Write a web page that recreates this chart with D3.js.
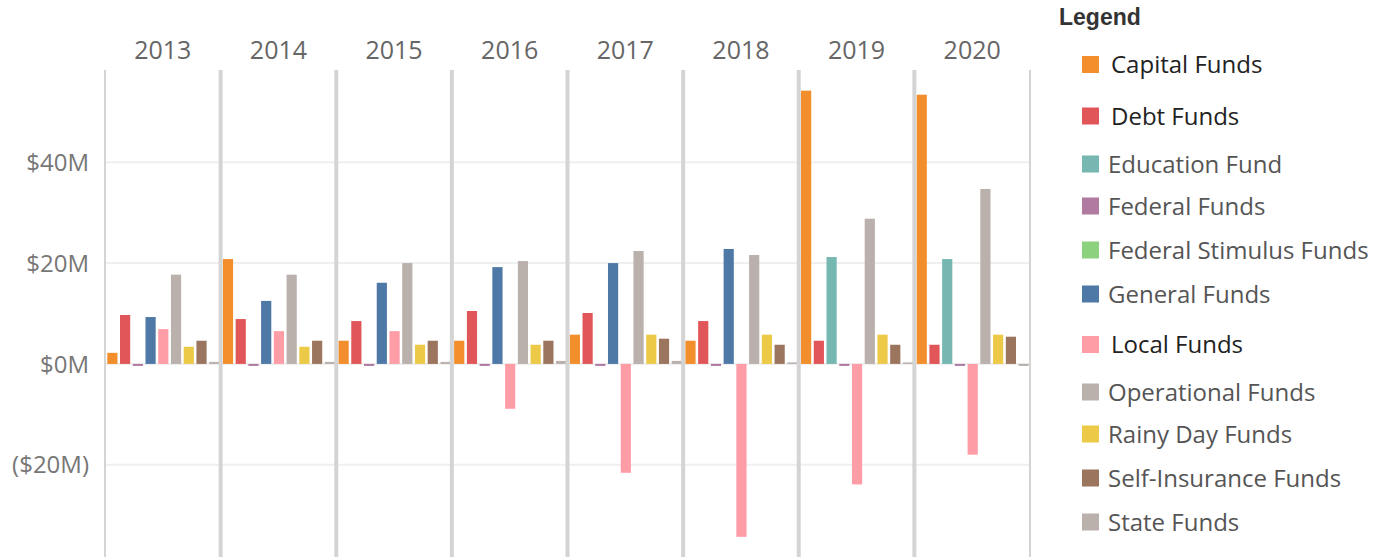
<!DOCTYPE html>
<html>
<head>
<meta charset="utf-8">
<style>
  body { margin: 0; background: #fff; }
  svg { display: block; font-family: "Open Sans", sans-serif; }
</style>
</head>
<body>
<script src="https://cdn.jsdelivr.net/npm/d3@7"></script>
<script>
var width = 1389, height = 557;

// data (values in $M, null = no bar for that year)
var years = ['2013', '2014', '2015', '2016', '2017', '2018', '2019', '2020'];
var funds = ['Capital Funds', 'Debt Funds', 'Education Fund', 'Federal Funds',
             'Federal Stimulus Funds', 'General Funds', 'Local Funds',
             'Operational Funds', 'Rainy Day Funds', 'Self-Insurance Funds', 'State Funds'];
var capital     = [2.2, 20.8, 4.6, 4.6, 5.8, 4.6, 54.2, 53.4];
var debt        = [9.7, 8.9, 8.5, 10.5, 10.1, 8.5, 4.6, 3.8];
var education   = [null, null, null, null, null, null, 21.2, 20.8];
var federal     = [-0.4, -0.4, -0.4, -0.4, -0.4, -0.4, -0.4, -0.4];
var stimulus    = [null, null, null, null, null, null, null, null];
var general     = [9.3, 12.5, 16.1, 19.2, 20.0, 22.8, null, null];
var local       = [6.9, 6.5, 6.5, -8.9, -21.6, -34.3, -23.9, -18.0];
var operational = [17.7, 17.7, 20.0, 20.4, 22.4, 21.6, 28.8, 34.7];
var rainyDay    = [3.4, 3.4, 3.8, 3.8, 5.8, 5.8, 5.8, 5.8];
var selfIns     = [4.6, 4.6, 4.6, 4.6, 5.0, 3.8, 3.8, 5.4];
var state       = [0.4, 0.4, 0.4, 0.6, 0.6, 0.3, 0.3, -0.4];
var yTicks = [-20, 0, 20, 40];

var series = [capital, debt, education, federal, stimulus, general, local,
              operational, rainyDay, selfIns, state];
var colors = ['#f28e2b', '#e15759', '#76b7b2', '#b07aa1', '#8cd17d', '#4e79a7',
              '#ff9da7', '#bab0ac', '#edc948', '#9c755f', '#bab0ac'];
var color = d3.scaleOrdinal().domain(funds).range(colors);

var svg = d3.select('body').append('svg')
    .attr('width', width).attr('height', height);

var plotTop = 70, plotBottom = 557, plotLeft = 105, plotRight = 1030;

var y = d3.scaleLinear().domain([-38.3, 58.3]).range([plotBottom, plotTop]);
var xYear = d3.scaleBand().domain(years).range([plotLeft, plotRight]);

// grid lines
svg.append('g').selectAll('line')
    .data(yTicks.concat([0]))
    .enter().append('line')
    .attr('x1', plotLeft).attr('x2', plotRight)
    .attr('y1', function (d) { return y(d); })
    .attr('y2', function (d) { return y(d); })
    .attr('stroke', '#efefef').attr('stroke-width', 2);

// y axis labels
function fmt(d) { return d < 0 ? '($' + (-d) + 'M)' : '$' + d + 'M'; }
svg.append('g').selectAll('text')
    .data(yTicks)
    .enter().append('text')
    .attr('x', 89).attr('y', function (d) { return y(d); })
    .attr('dy', '0.36em')
    .attr('text-anchor', 'end')
    .attr('font-size', 24).attr('fill', '#777')
    .text(fmt);

// bars per year
years.forEach(function (yr, i) {
    var rows = funds.map(function (f, j) { return { fund: f, value: series[j][i] }; })
        .filter(function (d) { return d.value !== null; });
    var x = d3.scaleBand()
        .domain(rows.map(function (d) { return d.fund; }))
        .range([xYear(yr) + 1, xYear(yr) + xYear.bandwidth()])
        .paddingInner(0.2).paddingOuter(0.1);
    svg.append('g').selectAll('rect')
        .data(rows)
        .enter().append('rect')
        .attr('x', function (d) { return x(d.fund); })
        .attr('width', x.bandwidth())
        .attr('y', function (d) { return y(Math.max(0, d.value)); })
        .attr('height', function (d) { return Math.abs(y(d.value) - y(0)); })
        .attr('fill', function (d) { return color(d.fund); });
});

// panel separators
svg.append('g').selectAll('line')
    .data(d3.range(years.length + 1))
    .enter().append('line')
    .attr('x1', function (i) { return plotLeft + i * xYear.bandwidth(); })
    .attr('x2', function (i) { return plotLeft + i * xYear.bandwidth(); })
    .attr('y1', plotTop).attr('y2', plotBottom)
    .attr('stroke', '#d4d4d4')
    .attr('stroke-width', function (i) { return (i === 0 || i === years.length) ? 2 : 4; });

// year headers
svg.append('g').selectAll('text')
    .data(years)
    .enter().append('text')
    .attr('x', function (d) { return xYear(d) + xYear.bandwidth() / 2; })
    .attr('y', 59)
    .attr('text-anchor', 'middle')
    .attr('font-size', 25).attr('fill', '#666')
    .text(function (d) { return d; });

// legend
var legendRowY = [64.5, 116, 164, 206, 250, 294, 344.5, 392, 434, 478, 522];
var darkRows = ['Capital Funds', 'Debt Funds', 'Local Funds'];
var legend = svg.append('g');
legend.append('text')
    .attr('x', 1059).attr('y', 25)
    .attr('font-family', '"Liberation Sans", Arial, sans-serif')
    .attr('font-weight', 'bold').attr('font-size', 23).attr('fill', '#333')
    .text('Legend');
var item = legend.selectAll('g.item')
    .data(funds)
    .enter().append('g')
    .attr('transform', function (d, i) { return 'translate(0,' + legendRowY[i] + ')'; });
item.append('rect')
    .attr('x', 1082).attr('y', -8.5).attr('width', 17).attr('height', 17)
    .attr('fill', function (d) { return color(d); });
item.append('text')
    .attr('x', function (d) { return darkRows.indexOf(d) >= 0 ? 1111 : 1108; })
    .attr('dy', '0.36em')
    .attr('font-size', 24)
    .attr('fill', function (d) { return darkRows.indexOf(d) >= 0 ? '#222' : '#555'; })
    .text(function (d) { return d; });
</script>
</body>
</html>
